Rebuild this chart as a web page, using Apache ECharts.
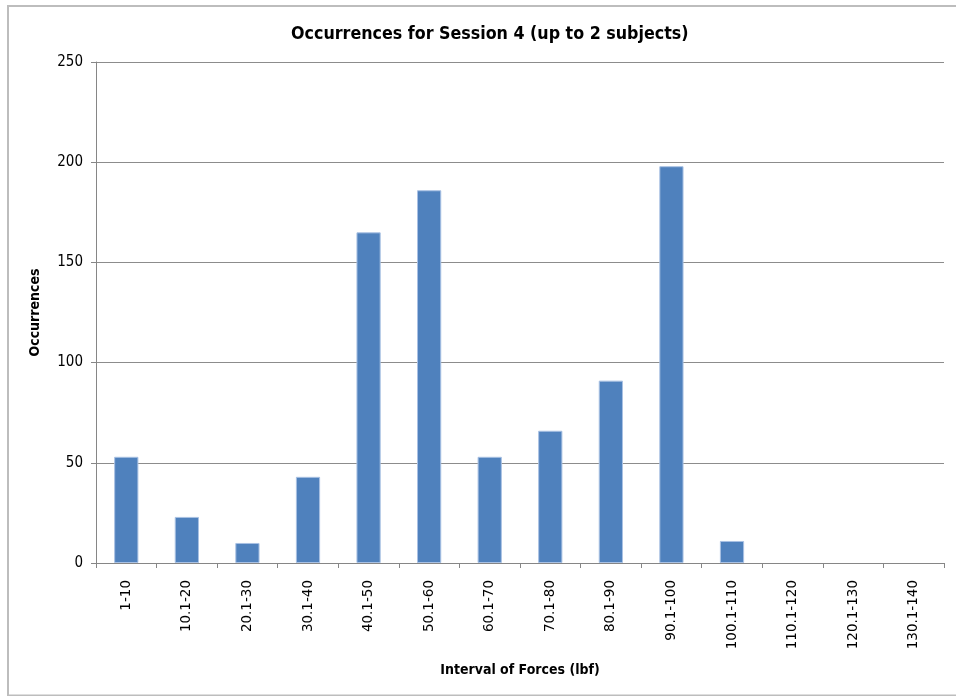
<!DOCTYPE html>
<html>
<head>
<meta charset="utf-8">
<script src="https://cdn.jsdelivr.net/npm/echarts@6/dist/echarts.min.js"></script>
<style>html,body{margin:0;padding:0;background:#fff}#c{width:956px;height:696px}</style>
</head>
<body>
<div id="c"></div>
<script>
const categories = ["1-10","10.1-20","20.1-30","30.1-40","40.1-50","50.1-60","60.1-70","70.1-80","80.1-90","90.1-100","100.1-110","110.1-120","120.1-130","130.1-140"];
const occurrences = [53, 23, 10, 43, 165, 186, 53, 66, 91, 198, 11, 0, 0, 0];
const titleText = "Occurrences for Session 4 (up to 2 subjects)";
const xTitle = "Interval of Forces (lbf)";
const yTitle = "Occurrences";

const FONT = '"Liberation Sans Narrow","DejaVu Sans Condensed","Liberation Sans",sans-serif';
const chart = echarts.init(document.getElementById('c'), null, {renderer: 'canvas'});
chart.setOption({
  animation: false,
  backgroundColor: '#fff',
  title: {
    text: titleText, left: 286, top: 20,
    textStyle: {fontFamily: FONT, fontWeight: 'bold', fontSize: 17.7, color: '#000'}
  },
  graphic: [{
    type: 'rect', shape: {x: 8, y: 6, width: 970, height: 689.5},
    style: {fill: 'none', stroke: '#bdbdbd', lineWidth: 2}, silent: true, z: -1
  }],
  grid: {left: 96, right: 12, top: 62, bottom: 133, containLabel: false},
  xAxis: {
    type: 'category', data: categories,
    name: xTitle, nameLocation: 'middle', nameGap: 100,
    nameTextStyle: {fontFamily: FONT, fontWeight: 'bold', fontSize: 14, color: '#000'},
    axisLine: {lineStyle: {color: '#868686', width: 1}},
    axisTick: {show: true, alignWithLabel: false, length: 5, lineStyle: {color: '#868686'}},
    axisLabel: {rotate: 90, interval: 0, margin: 17, fontFamily: '"DejaVu Sans",sans-serif', fontSize: 13.5, color: '#000'},
    splitLine: {show: false}
  },
  yAxis: {
    type: 'value', min: 0, max: 250, interval: 50,
    name: yTitle, nameLocation: 'middle', nameGap: 54, nameRotate: 90,
    nameTextStyle: {fontFamily: FONT, fontWeight: 'bold', fontSize: 14, color: '#000'},
    axisLine: {show: true, lineStyle: {color: '#868686'}},
    axisTick: {show: true, length: 5, lineStyle: {color: '#868686'}},
    axisLabel: {fontFamily: FONT, fontSize: 15, color: '#000', margin: 13},
    splitLine: {show: true, lineStyle: {color: '#8c8c8c', width: 1}}
  },
  series: [{
    type: 'bar', barWidth: '40%',
    data: occurrences.map(v => ({value: v, itemStyle: {borderWidth: v > 0 ? 1 : 0}})),
    itemStyle: {color: '#4F81BD', borderColor: '#a9c1e3', borderWidth: 1}
  }]
});
</script>
</body>
</html>
